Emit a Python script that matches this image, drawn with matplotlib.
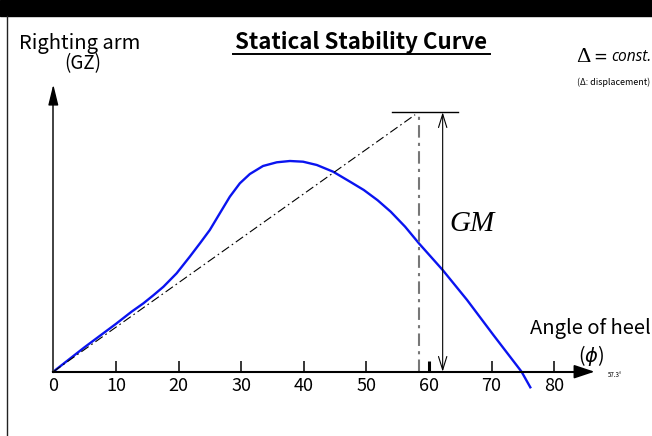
import matplotlib
matplotlib.use('Agg')
import matplotlib.pyplot as plt
from matplotlib.lines import Line2D
from matplotlib.patches import Rectangle

plt.rcParams['font.family'] = ['Noto Sans CJK KR', 'DejaVu Sans']

# righting arm curve (angle in degrees, GZ in arbitrary units)
heel_angle = [0, 5, 10, 12.5, 14.4, 16.0, 17.6, 19.7, 21.8, 23.5, 25.0, 26.6, 28.2,
              29.8, 31.4, 33.5, 35.7, 37.8, 39.9, 42.1, 44.7, 47.4, 49.6, 51.8,
              53.9, 56.2, 58.4, 62.2, 66.1, 70.3, 74.8, 76.2]
gz = [0, 0.245, 0.478, 0.60, 0.684, 0.765, 0.85, 0.984, 1.15, 1.29, 1.417, 1.584, 1.75,
      1.884, 1.977, 2.057, 2.094, 2.107, 2.10, 2.067, 2.00, 1.90, 1.817, 1.715,
      1.60, 1.45, 1.284, 1.017, 0.717, 0.367, 0.0, -0.156]

tick_angles = [0, 10, 20, 30, 40, 50, 60, 70, 80]
tangent_end = (57.8, 2.57)      # initial GM tangent line end
radian_angle = 58.4             # 57.3 deg marker line
gm_angle = 62.2                 # where GM arrow is drawn
gm_height = 2.594
gm_bar = (54.1, 64.6)


def px(x, y):
    """pixel position (from top-left) -> figure fraction"""
    return x / 652, 1 - y / 436


fig = plt.figure(figsize=(6.52, 4.36), dpi=100)
ax = fig.add_axes([0, 0, 1, 1])
ax.set_xlim(-53.3 / 6.26, (652 - 53.3) / 6.26)
ax.set_ylim(-(436 - 371.7) / 100, 371.7 / 100)

# axes with arrow heads
for side in ['top', 'right']:
    ax.spines[side].set_visible(False)
ax.spines['bottom'].set_position(('data', 0))
ax.spines['left'].set_position(('data', 0))
ax.spines['bottom'].set_bounds(0, 85)
ax.spines['left'].set_bounds(0, 2.8)
ax.spines['bottom'].set_linewidth(1.5)
ax.spines['left'].set_linewidth(1.3)
ax.spines['left'].set_color('#333333')
ax.annotate('', xy=(86.9, 0), xytext=(84.0, 0),
            arrowprops=dict(arrowstyle='-|>,head_length=0.9,head_width=0.3',
                            color='black', lw=1.2, mutation_scale=14))
ax.annotate('', xy=(0, 2.90), xytext=(0, 2.70),
            arrowprops=dict(arrowstyle='-|>,head_length=0.9,head_width=0.22',
                            color='black', lw=1.0, mutation_scale=14))

ax.set_xticks(tick_angles)
ax.set_xticklabels([str(t) for t in tick_angles])
ax.set_yticks([])
ax.tick_params(axis='x', direction='in', length=8, width=1.1, pad=3.5, labelsize=13)
ticks = ax.xaxis.get_major_ticks()
ticks[0].tick1line.set_visible(False)
ticks[6].tick1line.set_markeredgewidth(2.2)

# curves
ax.plot(heel_angle, gz, color='#0a14f0', lw=1.7, clip_on=False,
        solid_joinstyle='round')
ax.plot([0, tangent_end[0]], [0, tangent_end[1]], color='black', lw=0.8,
        linestyle=(0, (8, 3, 1.5, 3)))
ax.plot([radian_angle, radian_angle], [0, gm_height], color='#777777', lw=1.5,
        linestyle=(0, (6, 2.5, 1.5, 2.5)))
ax.plot(gm_bar, [gm_height, gm_height], color='black', lw=1.0)
ax.annotate('', xy=(gm_angle, gm_height), xytext=(gm_angle, 0),
            arrowprops=dict(arrowstyle='<->,head_length=0.8,head_width=0.25',
                            color='black', lw=0.8, mutation_scale=12,
                            shrinkA=0, shrinkB=0))
ax.text(63.3, 1.48, 'GM', family='Liberation Serif', style='italic',
        fontsize=21, va='center', ha='left')

# texts
fig.text(*px(361, 42), 'Statical Stability Curve', fontsize=16, weight='bold',
         ha='center', va='center')
fig.add_artist(Line2D([233 / 652, 490 / 652], [1 - 54 / 436, 1 - 54 / 436],
                      color='black', lw=1.4))
fig.text(*px(80, 43), 'Righting arm', fontsize=14.5, ha='center', va='center')
fig.text(*px(83, 64), '(GZ)', fontsize=13.5, ha='center', va='center')
fig.text(*px(576, 57), '\u0394', family='Liberation Serif', fontsize=16,
         ha='left', va='center')
fig.text(*px(593, 57), '=', family='DejaVu Sans', fontsize=12, ha='left', va='center')
fig.text(*px(651, 57), 'const.', family=['Open Sans', 'DejaVu Sans'], fontsize=11.2,
         style='italic', ha='right', va='center')
fig.text(*px(650, 82), '(\u0394: displacement)', fontsize=6.4, ha='right', va='center')
fig.text(*px(651, 328), 'Angle of heel', fontsize=14.5, ha='right', va='center')
fig.text(*px(591, 355), r'($\phi$)', fontsize=14, ha='center', va='center')
fig.text(*px(615, 375), '57.3\u00b0', fontsize=4.5, ha='center', va='center')

# frame decorations
fig.add_artist(Rectangle((0, 1 - 16 / 436), 1, 16 / 436, color='black'))
fig.add_artist(Line2D([7 / 652, 7 / 652], [0, 1 - 16 / 436], color='#222222', lw=1.0))

fig.savefig('out.png', dpi=100)
